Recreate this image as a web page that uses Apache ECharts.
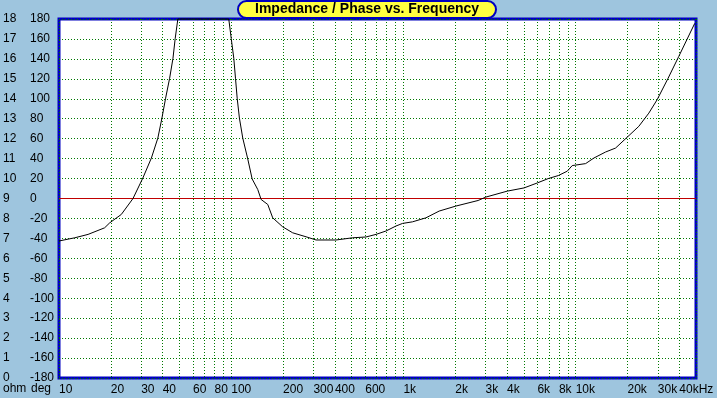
<!DOCTYPE html>
<html>
<head>
<meta charset="utf-8">
<script src="https://cdn.jsdelivr.net/npm/echarts@6.0.0/dist/echarts.min.js"></script>
<style>
  html, body { margin: 0; padding: 0; background: #9ec5de; }
  #chartImp { width: 717px; height: 398px; }
</style>
</head>
<body>
<div id="chartImp"></div>
<script>
  /*-----data-----*/
  var freqHz = [10, 12.35, 14.75, 18.4, 19.7, 23.0, 26.9, 30.7, 34.4, 37.5, 39.6, 41.6, 43.9, 45.9, 47.3, 49.0,
    96.8, 100, 103.5, 105.9, 108.3, 111.6, 116.7, 124.8, 132.3, 142.6, 149.2, 163, 174.2, 199, 227.5, 272, 311,
    406, 507, 606, 693, 792, 905, 988, 1129, 1350, 1613, 2015, 2714, 3008, 4013, 5015, 5990, 6937, 7928, 8941,
    9556, 11430, 12770, 14920, 17060, 19910, 23280, 26610, 29720, 34430, 39700, 49160];
  var impOhm = [6.87, 7.03, 7.2, 7.53, 7.78, 8.2, 9.0, 10.03, 11.03, 12.03, 13.03, 14.03, 15.03, 16.03, 17.03, 18,
    18, 17.03, 16.03, 15.03, 14.03, 13.03, 12.03, 10.98, 9.98, 9.45, 8.95, 8.7, 8.03, 7.58, 7.28, 7.08, 6.92,
    6.92, 7.03, 7.07, 7.2, 7.37, 7.62, 7.75, 7.83, 8.03, 8.37, 8.62, 8.9, 9.07, 9.37, 9.53, 9.78, 10.0, 10.15, 10.37,
    10.65, 10.75, 11.03, 11.33, 11.53, 12.07, 12.62, 13.28, 13.95, 15.03, 16.12, 17.78];

  var freqLabels = [10, 20, 30, 40, 60, 80, 100, 200, 300, 400, 600, 1000, 2000, 3000, 4000, 6000, 8000, 10000,
    20000, 30000, 40000];
  var freqGrid = [10, 20, 30, 40, 50, 60, 70, 80, 90, 100, 200, 300, 400, 500, 600, 700, 800, 900, 1000,
    2000, 3000, 4000, 5000, 6000, 7000, 8000, 9000, 10000, 20000, 30000, 40000, 50000];

  var impData = [];
  for (var i = 0; i < freqHz.length; i++) {
    impData.push([freqHz[i], impOhm[i]]);
  }

  var labelFont = { fontFamily: 'Liberation Sans, Arial, sans-serif', fontSize: 12, color: '#000' };
  var gridDots = { color: '#007800', type: [1, 2], width: 1 };

  var optionImp = {
    animation: false,
    title: {
      text: 'Impedance / Phase vs. Frequency',
      left: 238,
      top: 1,
      padding: [1, 17, 2, 17],
      backgroundColor: '#ffff40',
      borderColor: '#0000c0',
      borderWidth: 2,
      borderRadius: 9,
      textStyle: {
        fontFamily: 'Liberation Sans, Arial, sans-serif',
        fontSize: 14,
        fontWeight: 'bold',
        color: '#000'
      }
    },
    grid: {
      left: 59,
      right: 21,
      top: 19,
      bottom: 20,
      show: true,
      backgroundColor: '#fff',
      borderColor: '#0000c0',
      borderWidth: 3,
      outerBoundsMode: 'none'
    },
    xAxis: {
      type: 'log',
      logBase: 10,
      min: 10,
      max: 50000,
      axisLine: { show: false },
      axisTick: { show: false, customValues: freqGrid },
      splitLine: { show: true, lineStyle: gridDots },
      axisLabel: {
        customValues: freqLabels,
        align: 'left',
        margin: 6,
        fontFamily: labelFont.fontFamily,
        fontSize: labelFont.fontSize,
        color: labelFont.color,
        formatter: function (v) {
          if (v >= 40000) return '40kHz';
          if (v >= 1000) return (v / 1000) + 'k';
          return '' + v;
        }
      }
    },
    yAxis: [
      {
        type: 'value',
        min: 0,
        max: 18,
        interval: 1,
        position: 'left',
        axisLine: { show: false },
        axisTick: { show: false },
        splitLine: { show: true, lineStyle: gridDots },
        axisLabel: {
          align: 'left',
          margin: 56,
          padding: [0, 0, 5, 0],
          fontFamily: labelFont.fontFamily,
          fontSize: labelFont.fontSize,
          color: labelFont.color
        }
      },
      {
        type: 'value',
        min: -180,
        max: 180,
        interval: 20,
        position: 'left',
        axisLine: { show: false },
        axisTick: { show: false },
        splitLine: { show: false },
        axisLabel: {
          align: 'left',
          margin: 29,
          padding: [0, 0, 5, 0],
          fontFamily: labelFont.fontFamily,
          fontSize: labelFont.fontSize,
          color: labelFont.color
        }
      }
    ],
    graphic: [
      { type: 'text', left: 3, top: 383, style: { text: 'ohm', font: '12px Liberation Sans, Arial, sans-serif', fill: '#000' } },
      { type: 'text', left: 31, top: 383, style: { text: 'deg', font: '12px Liberation Sans, Arial, sans-serif', fill: '#000' } }
    ],
    series: [
      {
        name: 'Impedance',
        type: 'line',
        xAxisIndex: 0,
        yAxisIndex: 0,
        data: impData,
        symbol: 'none',
        clip: false,
        z: 10,
        lineStyle: { color: '#000', width: 1 },
        markLine: {
          silent: true,
          symbol: 'none',
          label: { show: false },
          lineStyle: { color: '#c00000', type: 'solid', width: 1 },
          data: [{ yAxis: 9 }]
        }
      }
    ]
  };

  var chartImp = document.getElementById('chartImp');
  var impChart = echarts.init(chartImp);
  impChart.setOption(optionImp);
</script>
</body>
</html>
